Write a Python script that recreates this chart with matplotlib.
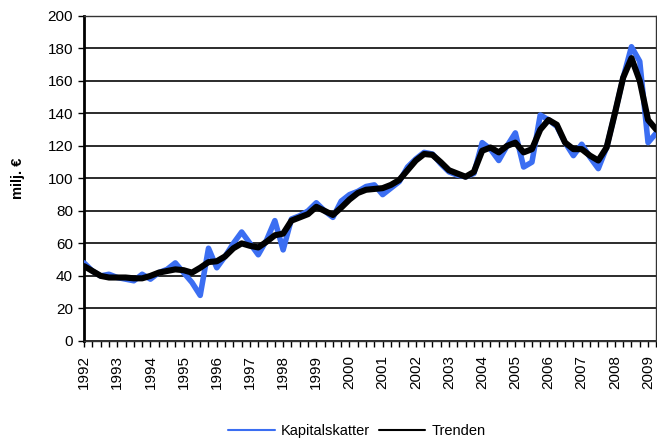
import numpy as np
import matplotlib
matplotlib.use("Agg")
import matplotlib.pyplot as plt

plt.rcParams['font.family'] = ['Liberation Sans', 'DejaVu Sans']

years = list(range(1992, 2010))

# quarterly values, 1992Q1 .. 2009Q2 (milj. €)
kapitalskatter = [48, 43, 40, 41, 39, 38, 37, 41, 38, 42,
                  44, 48, 42, 36, 28, 57, 45, 52, 60, 67,
                  60, 53, 62, 74, 56, 75, 77, 80, 85, 80,
                  76, 86, 90, 92, 95, 96, 90, 94, 98, 107,
                  112, 116, 115, 109, 104, 102, 101, 103, 122, 118,
                  111, 120, 128, 107, 110, 139, 136, 132, 122, 114,
                  121, 113, 106, 119, 140, 162, 181, 172, 122, 128]
trenden = [46, 43, 40, 39, 39, 39, 38.5, 38.5, 40, 42,
           43, 44, 43.5, 42, 45, 48.5, 49, 52, 57, 60,
           58.5, 57.5, 61, 65, 66, 74, 76, 78, 82.5, 80,
           77.5, 82, 87, 91, 93, 93.5, 94, 96, 99, 105,
           111, 115, 114.5, 110, 105, 103, 101, 104, 117, 119,
           116, 120, 122, 116, 118, 130, 136, 133, 122, 118,
           118, 114, 111, 119, 140, 162, 174, 160, 136, 130]

x = np.arange(len(kapitalskatter))

fig = plt.figure(figsize=(6.57, 4.41), dpi=100)
ax = fig.add_axes([0.128, 0.227, 0.871, 0.737])

ax.plot(x, kapitalskatter, color='#3b6ef2', lw=4.0, solid_joinstyle='round',
        solid_capstyle='round', label='Kapitalskatter', zorder=3)
ax.plot(x, trenden, color='black', lw=4.4, solid_joinstyle='round',
        solid_capstyle='round', label='Trenden', zorder=4)

ax.set_xlim(0, len(x) - 1)
ax.set_ylim(0, 200)
ax.set_yticks(range(0, 201, 20))
ax.yaxis.grid(True, color='#1a1a1a', lw=1.3)
ax.set_axisbelow(True)

ax.set_xticks(np.arange(0, len(x), 4))
ax.set_xticklabels([str(y) for y in years], rotation=90, fontsize=11)
ax.set_xticks(np.arange(0, len(x)), minor=True)
ax.tick_params(axis='x', which='both', direction='out', length=4, width=1, pad=6)
ax.tick_params(axis='y', length=4, width=1, labelsize=11, pad=4)

for side in ['top', 'right', 'bottom']:
    ax.spines[side].set_color('#333333')
    ax.spines[side].set_linewidth(1.0)
ax.spines['left'].set_linewidth(2.0)
ax.spines['left'].set_color('black')

ax.set_ylabel('milj. €', fontsize=10.5, fontweight='bold', labelpad=16)

leg = fig.legend(loc='center', bbox_to_anchor=(0.543, 0.022), ncol=2,
                 frameon=False, fontsize=10.5, handlelength=3.2, columnspacing=0.6,
                 handletextpad=0.4)
for line in leg.get_lines():
    line.set_linewidth(1.5)

fig.savefig('out.png', dpi=100)
